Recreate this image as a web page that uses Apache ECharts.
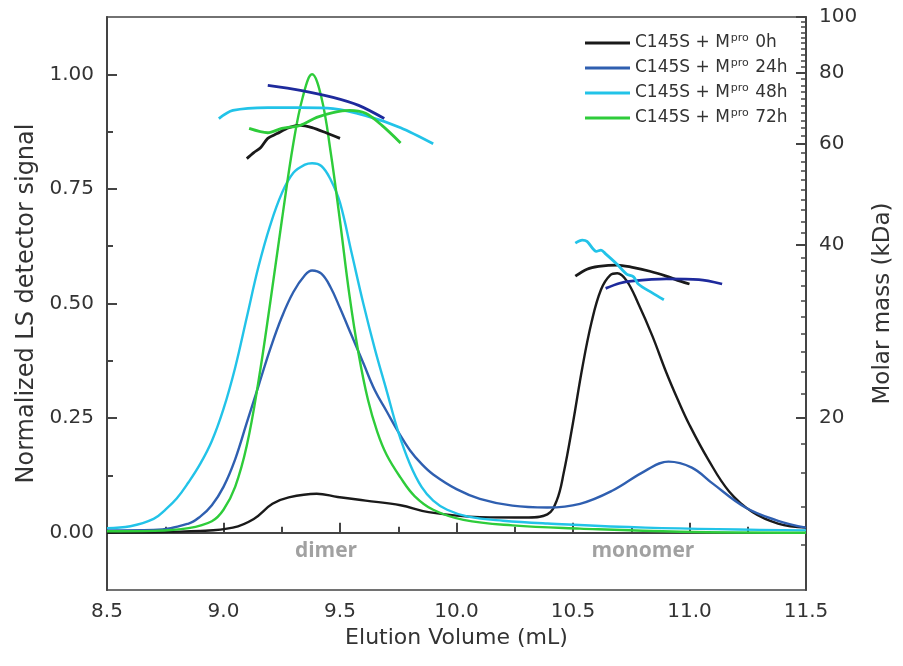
<!DOCTYPE html>
<html>
<head>
<meta charset="utf-8">
<script src="https://cdn.jsdelivr.net/npm/echarts@6/dist/echarts.min.js"></script>
<style>
html, body { margin: 0; padding: 0; background: #fff; }
#chart { width: 903px; height: 666px; }
</style>
</head>
<body>
<div id="chart"></div>
<script>
// light scattering traces: [elution volume (mL), normalized signal]
const LS_0H = [[8.5,0.0],[8.9,0.004],[9.04,0.011],[9.13,0.03],[9.21,0.063],[9.28,0.077],[9.4,0.085],[9.49,0.078],[9.61,0.07],[9.76,0.06],[9.88,0.045],[10.1,0.034],[10.31,0.033],[10.39,0.04],[10.43,0.07],[10.46,0.13],[10.5,0.24],[10.54,0.36],[10.58,0.46],[10.62,0.53],[10.66,0.562],[10.69,0.566],[10.73,0.55],[10.78,0.5],[10.84,0.43],[10.9,0.35],[10.95,0.29],[11.0,0.235],[11.08,0.16],[11.17,0.09],[11.27,0.045],[11.38,0.02],[11.5,0.011]];
const LS_24H = [[8.5,0.005],[8.7,0.006],[8.85,0.02],[8.9,0.035],[8.95,0.06],[9.0,0.1],[9.05,0.16],[9.1,0.24],[9.15,0.32],[9.2,0.4],[9.25,0.47],[9.3,0.525],[9.35,0.562],[9.38,0.572],[9.42,0.565],[9.46,0.535],[9.5,0.49],[9.55,0.43],[9.6,0.37],[9.65,0.31],[9.7,0.265],[9.75,0.22],[9.8,0.18],[9.85,0.15],[9.9,0.127],[10.0,0.095],[10.1,0.074],[10.24,0.059],[10.39,0.055],[10.53,0.063],[10.67,0.092],[10.81,0.135],[10.91,0.155],[11.01,0.142],[11.1,0.107],[11.24,0.055],[11.38,0.026],[11.5,0.011]];
const LS_48H = [[8.5,0.01],[8.6,0.014],[8.7,0.03],[8.75,0.05],[8.8,0.075],[8.85,0.11],[8.9,0.15],[8.95,0.2],[9.0,0.27],[9.05,0.36],[9.1,0.47],[9.15,0.58],[9.2,0.67],[9.25,0.74],[9.3,0.785],[9.35,0.803],[9.38,0.806],[9.42,0.8],[9.46,0.77],[9.5,0.72],[9.55,0.61],[9.6,0.5],[9.65,0.4],[9.7,0.31],[9.75,0.22],[9.8,0.15],[9.85,0.1],[9.9,0.07],[9.96,0.05],[10.05,0.035],[10.2,0.026],[10.39,0.02],[10.81,0.011],[11.5,0.005]];
const LS_72H = [[8.5,0.003],[8.7,0.004],[8.85,0.01],[8.95,0.025],[9.0,0.05],[9.05,0.1],[9.1,0.19],[9.15,0.33],[9.2,0.5],[9.25,0.68],[9.3,0.85],[9.34,0.95],[9.38,1.0],[9.42,0.95],[9.46,0.83],[9.5,0.68],[9.54,0.52],[9.58,0.39],[9.62,0.29],[9.66,0.22],[9.7,0.17],[9.76,0.12],[9.82,0.08],[9.9,0.05],[10.03,0.028],[10.24,0.016],[10.53,0.009],[10.96,0.002],[11.5,0.0]];

// molar mass traces: [elution volume (mL), kDa]
const MM_0H_DIMER = [[9.1,56.6],[9.13,58.0],[9.16,59.2],[9.19,61.4],[9.23,62.6],[9.28,64.1],[9.33,64.7],[9.38,64.1],[9.44,62.8],[9.5,61.4]];
const MM_24H_DIMER = [[9.19,76],[9.33,74.5],[9.47,72.4],[9.58,70.1],[9.69,66.5]];
const MM_48H_DIMER = [[8.98,66.5],[9.04,68.7],[9.19,69.5],[9.33,69.5],[9.47,69.2],[9.61,67.3],[9.76,64.1],[9.9,60.1]];
const MM_72H_DIMER = [[9.11,63.9],[9.19,62.8],[9.25,63.9],[9.33,64.7],[9.4,66.8],[9.47,68.1],[9.54,68.7],[9.61,67.9],[9.68,64.7],[9.76,60.3]];
const MM_0H_MONO = [[10.51,35.3],[10.56,36.3],[10.61,36.7],[10.69,36.9],[10.75,36.6],[10.83,36.0],[10.9,35.3],[10.96,34.6],[11.0,34.2]];
const MM_24H_MONO = [[10.64,33.6],[10.7,34.3],[10.75,34.6],[10.9,34.9],[11.04,34.8],[11.14,34.2]];
const MM_48H_MONO = [[10.51,40.3],[10.54,40.8],[10.56,40.6],[10.6,39.0],[10.62,39.2],[10.64,38.6],[10.69,37.0],[10.73,35.6],[10.76,35.2],[10.78,34.2],[10.84,33.0],[10.89,32.1]];

const LEGEND_NAMES = ["0h", "24h", "48h", "72h"];
const X_TICKS = [8.5, 9.0, 9.5, 10.0, 10.5, 11.0, 11.5];
const X_MINOR = [8.75, 9.25, 9.75, 10.25, 10.75, 11.25];
const Y_TICKS = [0, 0.25, 0.5, 0.75, 1.0];
const Y_MINOR = [0.125, 0.375, 0.625, 0.875];
const MM_TICKS = [20, 40, 60, 80, 100];
const MM_MINOR = [12, 14, 16, 18, 22, 24, 26, 28, 30, 32, 34, 36, 38, 42, 44, 46, 48, 50, 52, 54, 56, 58, 62, 64, 66, 68, 70, 72, 74, 76, 78, 82, 84, 86, 88, 90, 92, 94, 96, 98];

const ANNOT_TEXT = ["dimer", "monomer"];
const ANNOT_X = [9.44, 10.8];
const ANNOT_Y = [-0.041, -0.041];

const COLORS = { "0h": "#1a1a1a", "24h": "#2f5fb0", "48h": "#22c3e8", "72h": "#2ecc3a" };
const MM_NAVY = "#1e2a9c";
const FONT = "DejaVu Sans";
const AXIS_COLOR = "#444";
const TEXT_COLOR = "#333";

const lg = (v) => Math.log10(v);

const lsSeries = (name, data) => ({
    type: "line",
    name,
    data,
    xAxisIndex: 0,
    yAxisIndex: 0,
    symbol: "none",
    smooth: 0.4,
    lineStyle: { color: COLORS[name], width: 2.4 },
    itemStyle: { color: COLORS[name] },
    z: 3,
});

const mmSeries = (name, data, color) => ({
    type: "line",
    name,
    data: data.map(([v, m]) => [v, lg(m)]),
    xAxisIndex: 0,
    yAxisIndex: 2,
    symbol: "none",
    smooth: 0.3,
    lineStyle: { color, width: 2.8 },
    itemStyle: { color },
    z: 4,
});

const minorAxisBase = {
    axisLine: { show: false },
    axisLabel: { show: false },
    splitLine: { show: false },
};

const chart = echarts.init(document.getElementById("chart"));

chart.setOption({
    animation: false,
    backgroundColor: "#fff",
    grid: { left: 107, right: 96, top: 17, bottom: 76, show: true, borderColor: AXIS_COLOR, borderWidth: 1.5 },
    legend: {
        data: LEGEND_NAMES,
        orient: "vertical",
        left: 585,
        top: 33,
        padding: 0,
        itemGap: 5,
        itemWidth: 45,
        itemHeight: 3,
        icon: "rect",
        formatter: (name) => `C145S + M{sup|pro} ${name}`,
        textStyle: {
            fontFamily: FONT,
            fontSize: 17,
            color: TEXT_COLOR,
            lineHeight: 20,
            rich: {
                sup: { fontFamily: FONT, fontSize: 11, lineHeight: 20, verticalAlign: "top", color: TEXT_COLOR, padding: [0, 1, 7, 1] },
            },
        },
    },
    xAxis: [
        {
            type: "value",
            min: 8.5,
            max: 11.5,
            interval: 0.5,
            position: "bottom",
            name: "Elution Volume (mL)",
            nameLocation: "middle",
            nameGap: 37,
            nameTextStyle: { fontFamily: FONT, fontSize: 22, color: TEXT_COLOR },
            axisLine: { lineStyle: { color: AXIS_COLOR, width: 2 } },
            axisTick: { inside: true, length: 10, customValues: X_TICKS, lineStyle: { color: AXIS_COLOR, width: 2 } },
            axisLabel: { customValues: X_TICKS, margin: 12, fontFamily: FONT, fontSize: 20, color: TEXT_COLOR, formatter: (v) => v.toFixed(1) },
            splitLine: { show: false },
        },
        {
            type: "value",
            min: 8.5,
            max: 11.5,
            interval: 0.25,
            position: "bottom",
            ...minorAxisBase,
            axisTick: { inside: true, length: 6, customValues: X_MINOR, lineStyle: { color: AXIS_COLOR, width: 2 } },
        },
    ],
    yAxis: [
        {
            type: "value",
            min: -0.125,
            max: 1.125,
            interval: 0.125,
            position: "left",
            name: "Normalized LS detector signal",
            nameLocation: "middle",
            nameGap: 68,
            nameTextStyle: { fontFamily: FONT, fontSize: 24, color: TEXT_COLOR },
            axisLine: { show: true, lineStyle: { color: AXIS_COLOR, width: 2 } },
            axisTick: { show: true, inside: true, length: 10, customValues: Y_TICKS, lineStyle: { color: AXIS_COLOR, width: 2 } },
            axisLabel: { customValues: Y_TICKS, margin: 13, fontFamily: FONT, fontSize: 20, color: TEXT_COLOR, formatter: (v) => v.toFixed(2) },
            splitLine: { show: false },
        },
        {
            type: "value",
            min: -0.125,
            max: 1.125,
            interval: 0.125,
            position: "left",
            ...minorAxisBase,
            axisTick: { show: true, inside: true, length: 6, customValues: Y_MINOR, lineStyle: { color: AXIS_COLOR, width: 2 } },
        },
        {
            type: "value",
            min: 1,
            max: 2,
            interval: 0.1,
            position: "right",
            name: "Molar mass (kDa)",
            nameLocation: "middle",
            nameRotate: 90,
            nameGap: 66,
            nameTextStyle: { fontFamily: FONT, fontSize: 23, color: TEXT_COLOR },
            axisLine: { show: true, lineStyle: { color: AXIS_COLOR, width: 2 } },
            axisTick: { show: true, inside: true, length: 10, customValues: MM_TICKS.map(lg), lineStyle: { color: AXIS_COLOR, width: 2 } },
            axisLabel: { customValues: MM_TICKS.map(lg), margin: 13, fontFamily: FONT, fontSize: 20, color: TEXT_COLOR, formatter: (v) => String(Math.round(Math.pow(10, v))) },
            splitLine: { show: false },
        },
        {
            type: "value",
            min: 1,
            max: 2,
            interval: 0.1,
            position: "right",
            ...minorAxisBase,
            axisTick: { show: true, inside: true, length: 5, customValues: MM_MINOR.map(lg), lineStyle: { color: AXIS_COLOR, width: 1.5 } },
        },
    ],
    series: [
        lsSeries("0h", LS_0H),
        lsSeries("24h", LS_24H),
        lsSeries("48h", LS_48H),
        lsSeries("72h", LS_72H),
        mmSeries("0h dimer MM", MM_0H_DIMER, COLORS["0h"]),
        mmSeries("24h dimer MM", MM_24H_DIMER, MM_NAVY),
        mmSeries("48h dimer MM", MM_48H_DIMER, COLORS["48h"]),
        mmSeries("72h dimer MM", MM_72H_DIMER, COLORS["72h"]),
        mmSeries("0h monomer MM", MM_0H_MONO, COLORS["0h"]),
        mmSeries("24h monomer MM", MM_24H_MONO, MM_NAVY),
        mmSeries("48h monomer MM", MM_48H_MONO, COLORS["48h"]),
        {
            type: "scatter",
            name: "annotations",
            xAxisIndex: 0,
            yAxisIndex: 0,
            symbolSize: 0,
            silent: true,
            data: ANNOT_TEXT.map((t, i) => ({ name: t, value: [ANNOT_X[i], ANNOT_Y[i]] })),
            label: {
                show: true,
                position: "inside",
                formatter: (p) => p.name,
                fontFamily: "Open Sans",
                fontWeight: "bold",
                fontSize: 21,
                color: "#8a8a8a",
            },
            z: 5,
        },
    ],
});
</script>
</body>
</html>
